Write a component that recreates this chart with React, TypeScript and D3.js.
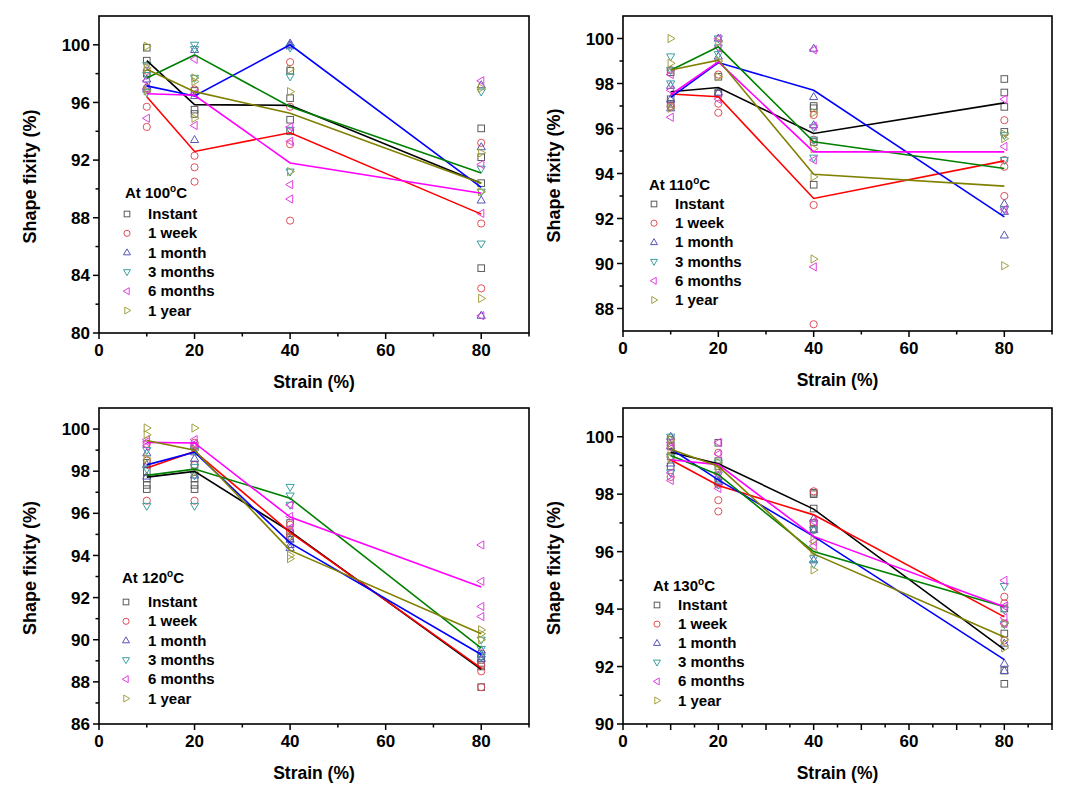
import React from "react";
import * as d3 from "d3";

// ---------- DATA ----------
const strains = [10, 20, 40, 80];
const seriesNames = ["Instant", "1 week", "1 month", "3 months", "6 months", "1 year"];
const tempLabels = ["100", "110", "120", "130"];
const xMajorTicks = [0, 20, 40, 60, 80];

// mean lines (per series: values at strains 10,20,40,80)
const mean100 = [
  [98.9, 95.85, 95.8, 90.4],
  [96.4, 92.6, 93.9, 88.25],
  [97.15, 96.45, 100.0, 90.1],
  [97.7, 99.3, 95.7, 91.1],
  [96.6, 96.5, 91.8, 89.7],
  [98.3, 96.75, 95.25, 90.4],
];
const mean110 = [
  [97.63, 97.82, 95.78, 97.14],
  [97.53, 97.41, 92.89, 94.56],
  [97.38, 98.93, 97.7, 92.07],
  [98.59, 99.63, 95.41, 94.22],
  [97.5, 98.96, 94.96, 94.96],
  [98.6, 99.04, 93.97, 93.44],
];
const mean120 = [
  [97.72, 97.99, 95.14, 88.6],
  [98.15, 98.94, 95.1, 88.65],
  [98.3, 98.9, 94.6, 89.3],
  [97.8, 98.1, 96.72, 89.6],
  [99.37, 99.34, 95.82, 92.5],
  [99.46, 99.0, 94.24, 90.28],
];
const mean130 = [
  [99.46, 99.06, 97.48, 92.59],
  [99.2, 98.3, 97.28, 93.73],
  [99.58, 98.5, 96.53, 92.24],
  [99.35, 98.68, 96.0, 94.08],
  [99.2, 99.03, 96.53, 94.08],
  [99.56, 98.97, 95.92, 93.03],
];

// individual measurements (per series, per strain)
const pts100 = [
  [[99.8, 98.9, 98.0], [96.8, 95.5, 95.2], [98.2, 96.3, 94.8, 94.0], [94.2, 92.2, 90.4, 84.5]],
  [[98.2, 97.0, 95.7, 94.3], [96.9, 92.3, 91.5, 90.5], [98.8, 95.7, 93.1, 87.8], [93.2, 87.6, 83.1]],
  [[97.6, 97.1, 96.9], [99.65, 96.45, 93.4], [100.1, 100.0, 99.9], [97.2, 92.9, 89.2, 81.2]],
  [[98.6, 97.9, 96.7], [100.0, 99.7, 97.7], [99.8, 97.8, 94.1, 91.2], [96.75, 91.4, 89.8, 86.2]],
  [[97.5, 96.9, 94.9], [99.0, 96.6, 94.4], [94.3, 93.3, 90.3, 89.3], [97.5, 91.7, 88.3, 81.2]],
  [[99.9, 98.4, 96.8], [97.7, 97.45, 94.9], [98.3, 96.75, 91.2], [97.0, 92.5, 89.8, 82.4]],
];
const pts110 = [
  [[98.5, 97.3, 97.1], [98.3, 97.6, 97.55], [97.0, 96.9, 95.4, 93.5], [98.2, 97.6, 96.96, 95.85]],
  [[98.6, 97.0, 96.95], [98.4, 97.1, 96.7], [96.6, 95.5, 92.6, 87.3], [96.37, 94.6, 94.3, 93.0]],
  [[97.9, 97.3, 96.9], [100.0, 99.2, 97.6], [99.55, 97.4, 96.15], [92.65, 92.3, 91.25]],
  [[99.2, 98.6, 98.0], [100.0, 99.6, 99.3], [96.05, 95.5, 94.7], [95.7, 94.6, 92.4]],
  [[98.4, 97.7, 96.5], [100.0, 99.6, 97.3], [99.5, 96.1, 94.6, 89.85], [97.3, 95.2, 92.4]],
  [[100.0, 98.9, 96.9], [99.85, 99.0, 98.3], [96.7, 95.1, 93.85, 90.2], [95.75, 95.55, 89.9]],
];
const pts120 = [
  [[98.4, 98.0, 97.65, 97.35, 97.15], [99.2, 98.3, 97.65, 97.35, 97.15], [95.54, 95.06, 94.83], [89.13, 88.9, 88.73, 87.75]],
  [[99.3, 98.5, 96.6], [99.35, 99.2, 98.3, 96.6], [95.46, 95.14, 94.9], [89.35, 88.8, 88.5, 87.75]],
  [[98.85, 98.3, 97.75], [99.2, 98.9, 98.6, 97.8], [94.75, 94.5, 94.35], [89.5, 89.3, 89.1]],
  [[99.0, 98.1, 96.35], [99.0, 98.2, 97.8, 96.35], [97.25, 96.84, 96.4], [90.0, 89.56, 89.2]],
  [[99.5, 99.4, 99.2], [99.5, 99.3, 99.2], [96.4, 95.85, 95.3], [94.5, 92.77, 91.58, 91.1]],
  [[100.05, 99.73, 98.6], [100.05, 99.0, 97.95], [94.9, 94.0, 93.85], [90.47, 90.28, 90.0]],
];
const pts130 = [
  [[99.9, 99.67, 99.32, 98.97], [99.79, 99.15, 98.97, 98.4], [98.05, 98.0, 97.5, 96.8, 97.0], [94.02, 93.15, 91.86, 91.4]],
  [[99.7, 99.3, 98.6], [99.44, 98.33, 97.79, 97.4], [98.1, 96.99, 96.76], [94.43, 94.2, 93.5, 92.91]],
  [[100.0, 99.67, 99.07], [98.62, 98.45, 98.43], [97.15, 96.75, 95.7], [92.8, 92.1, 91.85]],
  [[100.0, 99.3, 98.75], [99.1, 98.68, 98.33], [96.76, 95.77, 95.57], [94.8, 93.98, 93.47]],
  [[99.8, 99.6, 98.74, 98.48], [99.8, 99.4, 98.7, 98.2], [97.05, 96.35, 96.2], [95.0, 94.1, 93.5, 93.7]],
  [[99.9, 99.55, 99.25], [99.1, 98.97, 98.83], [96.4, 96.0, 95.36], [93.5, 92.95, 92.65]],
];

const yMajor100 = [80, 84, 88, 92, 96, 100];
const yMinor100 = [82, 86, 90, 94, 98];
const yMajor110 = [88, 90, 92, 94, 96, 98, 100];
const yMinor110 = [89, 91, 93, 95, 97, 99];
const yMajor120 = [86, 88, 90, 92, 94, 96, 98, 100];
const yMinor120 = [87, 89, 91, 93, 95, 97, 99];
const yMajor130 = [90, 92, 94, 96, 98, 100];
const yMinor130 = [91, 93, 95, 97, 99];

// ---------- STYLE ----------
const lineColors = ["#000000", "#FF0000", "#0000FF", "#008000", "#FF00FF", "#808000"];
const markerColors = ["#5a5a5a", "#E0505A", "#5555B8", "#3A9F9F", "#E040E0", "#A0A040"];
const markerTypes = ["square", "circle", "up", "down", "left", "right"];
const FONT = "'Liberation Sans', Arial, Helvetica, sans-serif";

const panels = [
  { temp: 0, mean: mean100, pts: pts100, left: 99, right: 529, top: 16, bottom: 333, yDomain: [80, 102], yMajor: yMajor100, yMinor: yMinor100, xMinor: [10, 30, 50, 70, 90], xMid: [] as number[],
    legTitle: [125, 198], legRow0: 219, legMarkX: 127, legTextX: 148, legStep: 19.3 },
  { temp: 1, mean: mean110, pts: pts110, left: 623, right: 1052, top: 16, bottom: 331, yDomain: [87, 101], yMajor: yMajor110, yMinor: yMinor110, xMinor: [10, 30, 50, 70, 90], xMid: [] as number[],
    legTitle: [649, 190], legRow0: 209, legMarkX: 654, legTextX: 675, legStep: 19.2 },
  { temp: 2, mean: mean120, pts: pts120, left: 99, right: 529, top: 408, bottom: 724, yDomain: [86, 101], yMajor: yMajor120, yMinor: yMinor120, xMinor: [10, 30, 50, 70, 90], xMid: [] as number[],
    legTitle: [122, 583], legRow0: 607, legMarkX: 126, legTextX: 148, legStep: 19.3 },
  { temp: 3, mean: mean130, pts: pts130, left: 623, right: 1052, top: 408, bottom: 724, yDomain: [90, 101], yMajor: yMajor130, yMinor: yMinor130, xMinor: [5, 15, 25, 35, 45, 55, 65, 75, 85], xMid: [10, 30, 50, 70, 90],
    legTitle: [653, 591], legRow0: 610, legMarkX: 657, legTextX: 678, legStep: 19.1 },
];

function Marker({ type, x, y, color, s = 1 }: { type: string; x: number; y: number; color: string; s?: number }) {
  const common = { fill: "none", stroke: color, strokeWidth: 1 };
  if (type === "circle") return <circle cx={x} cy={y} r={3.6 * s} {...common} />;
  if (type === "square") return <rect x={x - 3.3 * s} y={y - 3.3 * s} width={6.6 * s} height={6.6 * s} {...common} />;
  const a = 4.4 * s, b = 2.6 * s, w = 4.1 * s;
  let pts: [number, number][] = [];
  if (type === "up") pts = [[0, -a], [w, b], [-w, b]];
  if (type === "down") pts = [[0, a], [w, -b], [-w, -b]];
  if (type === "left") pts = [[-a, 0], [b, -w], [b, w]];
  if (type === "right") pts = [[a, 0], [-b, -w], [-b, w]];
  return <polygon points={pts.map(([dx, dy]) => `${x + dx},${y + dy}`).join(" ")} {...common} />;
}

function Panel({ p }: { p: (typeof panels)[number] }) {
  const x = d3.scaleLinear().domain([0, 90]).range([p.left, p.right]);
  const y = d3.scaleLinear().domain(p.yDomain).range([p.bottom, p.top]);
  const line = d3.line<number>().x((_, i) => x(strains[i])).y((v) => y(v));
  const cy = (p.top + p.bottom) / 2;
  return (
    <g>
      {/* scatter */}
      {p.pts.map((ser, si) =>
        ser.map((vals, k) =>
          vals.map((v, j) => (
            <Marker key={`${si}-${k}-${j}`} type={markerTypes[si]} x={x(strains[k])} y={y(v)} color={markerColors[si]} />
          ))
        )
      )}
      {/* mean lines */}
      {p.mean.map((m, si) => (
        <path key={si} d={line(m) || ""} fill="none" stroke={lineColors[si]} strokeWidth={1.6} />
      ))}
      {/* frame */}
      <rect x={p.left} y={p.top} width={p.right - p.left} height={p.bottom - p.top} fill="none" stroke="#000" strokeWidth={1.6} />
      {/* x ticks */}
      {xMajorTicks.map((t) => (
        <g key={t}>
          <line x1={x(t)} x2={x(t)} y1={p.bottom} y2={p.bottom + 6} stroke="#000" strokeWidth={1.5} />
          <text x={x(t)} y={p.bottom + 23} textAnchor="middle" fontFamily={FONT} fontWeight="bold" fontSize={17}>{t}</text>
        </g>
      ))}
      {p.xMid.map((t) => (
        <line key={"m" + t} x1={x(t)} x2={x(t)} y1={p.bottom} y2={p.bottom + 6} stroke="#000" strokeWidth={1.5} />
      ))}
      {p.xMinor.map((t) => (
        <line key={"n" + t} x1={x(t)} x2={x(t)} y1={p.bottom} y2={p.bottom + 3.5} stroke="#000" strokeWidth={1.5} />
      ))}
      {/* y ticks */}
      {p.yMajor.map((t) => (
        <g key={t}>
          <line x1={p.left - 6} x2={p.left} y1={y(t)} y2={y(t)} stroke="#000" strokeWidth={1.5} />
          <text x={p.left - 9} y={y(t)} dy="0.36em" textAnchor="end" fontFamily={FONT} fontWeight="bold" fontSize={17}>{t}</text>
        </g>
      ))}
      {p.yMinor.map((t) => (
        <line key={"n" + t} x1={p.left - 3.5} x2={p.left} y1={y(t)} y2={y(t)} stroke="#000" strokeWidth={1.5} />
      ))}
      {/* axis titles */}
      <text x={(p.left + p.right) / 2} y={p.bottom + 55} textAnchor="middle" fontFamily={FONT} fontWeight="bold" fontSize={17.5}>Strain (%)</text>
      <text transform={`translate(${p.left - 69},${cy + 2}) rotate(-90)`} textAnchor="middle" dy="0.35em" fontFamily={FONT} fontWeight="bold" fontSize={18}>Shape fixity (%)</text>
      {/* legend */}
      <text x={p.legTitle[0]} y={p.legTitle[1]} fontFamily={FONT} fontWeight="bold" fontSize={15}>
        {`At ${tempLabels[p.temp]}`}
        <tspan dy={-6} fontSize={10}>o</tspan>
        <tspan dy={6}>C</tspan>
      </text>
      {seriesNames.map((n, i) => {
        const by = p.legRow0 + i * p.legStep;
        return (
          <g key={n}>
            <Marker type={markerTypes[i]} x={p.legMarkX} y={by - 5} color={markerColors[i]} s={0.85} />
            <text x={p.legTextX} y={by} fontFamily={FONT} fontWeight="bold" fontSize={15}>{n}</text>
          </g>
        );
      })}
    </g>
  );
}

export default function App() {
  return (
    <svg width={1070} height={800} style={{ position: "absolute", left: 0, top: 0, background: "#fff" }}>
      <rect width={1070} height={800} fill="#fff" />
      {panels.map((p, i) => (
        <Panel key={i} p={p} />
      ))}
    </svg>
  );
}
